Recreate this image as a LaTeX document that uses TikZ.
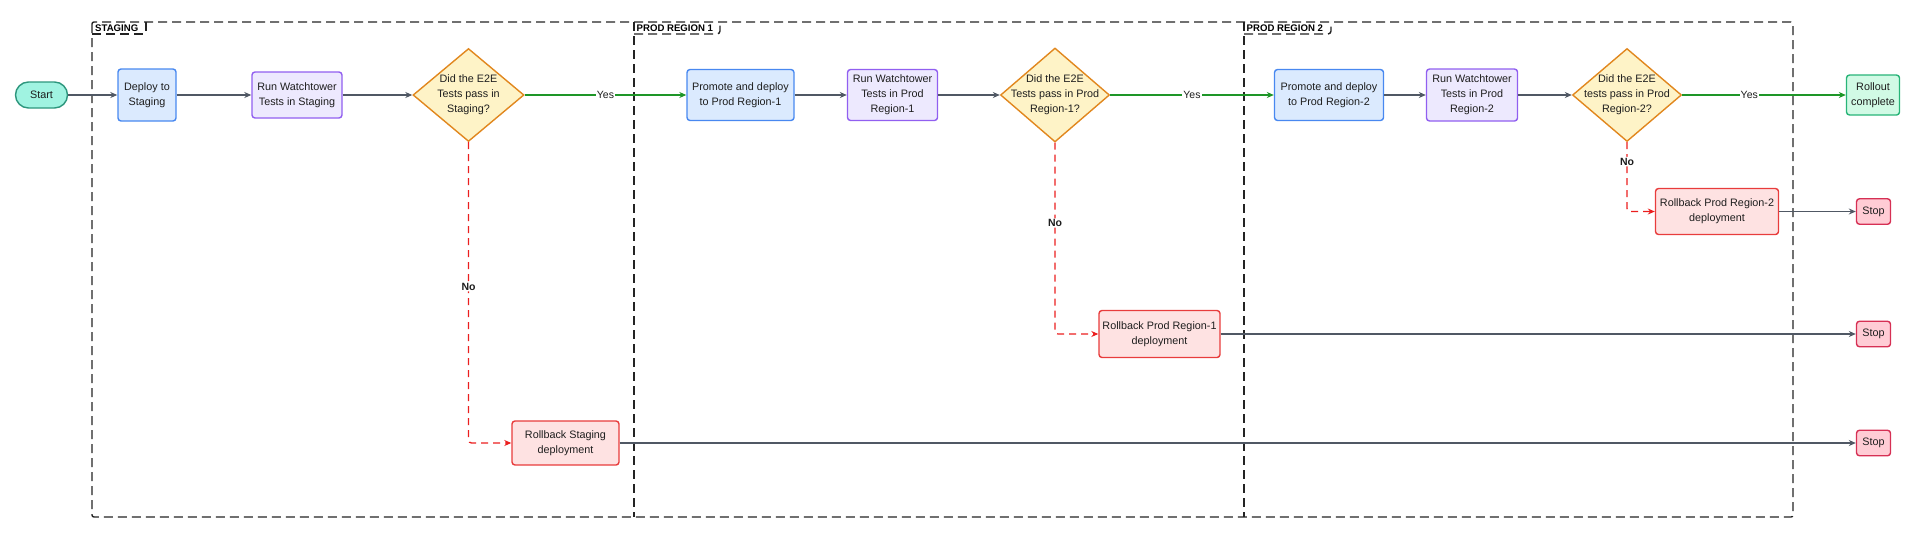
\documentclass[tikz,border=0pt]{standalone}
\usepackage{fontspec}
\setmainfont{Liberation Sans}
\usepackage{xcolor}
\usepackage{tikz}
\usetikzlibrary{shapes.geometric, arrows.meta, positioning}
\definecolor{inkgray}{RGB}{80,88,100}
\definecolor{laneink}{RGB}{35,35,35}
\definecolor{txtdark}{RGB}{30,30,30}
\definecolor{startdraw}{RGB}{45,150,125}
\definecolor{startfill}{RGB}{160,243,225}
\definecolor{bluedraw}{RGB}{72,136,240}
\definecolor{bluefill}{RGB}{219,234,254}
\definecolor{purpdraw}{RGB}{145,95,240}
\definecolor{purpfill}{RGB}{237,233,254}
\definecolor{amberdraw}{RGB}{225,135,30}
\definecolor{amberfill}{RGB}{254,243,199}
\definecolor{reddraw}{RGB}{232,60,60}
\definecolor{redfill}{RGB}{254,226,226}
\definecolor{stopdraw}{RGB}{214,48,84}
\definecolor{stopfill}{RGB}{255,204,213}
\definecolor{donedraw}{RGB}{40,180,120}
\definecolor{donefill}{RGB}{209,250,229}
\definecolor{yesgreen}{RGB}{30,150,40}
\definecolor{nored}{RGB}{235,30,30}
\tikzset{
  base/.style={rectangle, rounded corners=3pt, line width=1.4pt,
    align=center, inner sep=0pt, text=txtdark,
    font=\fontsize{10.8}{15}\selectfont},
  startpill/.style={base, draw=startdraw, fill=startfill, rounded corners=13pt},
  deploybox/.style={base, draw=bluedraw, fill=bluefill},
  testbox/.style={base, draw=purpdraw, fill=purpfill},
  rollbox/.style={base, draw=reddraw, fill=redfill},
  stopbox/.style={base, draw=stopdraw, fill=stopfill,
    minimum width=34pt, minimum height=25.5pt},
  donebox/.style={base, draw=donedraw, fill=donefill},
  decision/.style={diamond, draw=amberdraw, fill=amberfill,
    line width=1.4pt, inner sep=0pt},
  dtext/.style={align=center, text=txtdark, inner sep=0pt,
    font=\fontsize{10.8}{15}\selectfont},
  arrow/.style={-{Stealth[length=7pt, width=6pt]}, line width=1.2pt, color=inkgray},
  yesarrow/.style={-{Stealth[length=7pt, width=6pt]}, line width=1.6pt, color=yesgreen},
  noarrow/.style={-{Stealth[length=7pt, width=6pt]}, line width=1.3pt, color=nored,
    dash pattern=on 7pt off 5pt, rounded corners=3pt},
  edgelabel/.style={fill=white, inner sep=1pt, text=txtdark,
    font=\fontsize{10.5}{12}\selectfont},
  lane/.style={draw=laneink, line width=1.4pt, dash pattern=on 9pt off 5pt},
  lanetag/.style={anchor=west, inner sep=0pt, text=black,
    font=\bfseries\fontsize{9.6}{11}\selectfont}
}

\begin{document}
\begin{tikzpicture}[x=1pt, y=-1pt]
  \useasboundingbox (0,0) rectangle (1920,536);

  % Lanes
  \draw[lane, rounded corners=2pt] (92,22) rectangle (1793,517);
  \draw[lane] (634,22) -- (634,517);
  \draw[lane] (1244,22) -- (1244,517);
  \draw[lane, rounded corners=3pt] (92,34) -| (146,22);
  \draw[lane, rounded corners=3pt] (634,34) -| (720,22);
  \draw[lane, rounded corners=3pt] (1244,34) -| (1331,22);
  \node[lanetag] (tagstg) at (95,28.5) {STAGING};
  \node[lanetag] (tag1) at (636.5,28.5) {PROD REGION 1};
  \node[lanetag] (tag2) at (1246.5,28.5) {PROD REGION 2};

  % Main row
  \node[startpill, minimum width=52pt, minimum height=26pt] (start) at (41.5,95) {Start};
  \node[deploybox, minimum width=58pt, minimum height=52pt] (dstg) at (147,95) {Deploy to\\Staging};
  \node[testbox, minimum width=90pt, minimum height=46pt] (wtstg) at (297,95) {Run Watchtower\\Tests in Staging};
  \node[decision, minimum width=111pt, minimum height=93pt] (chkstg) at (468.5,95) {};
  \node[dtext] (chkstgtxt) at (chkstg) {Did the E2E\\Tests pass in\\Staging?};

  \node[deploybox, minimum width=107pt, minimum height=51pt] (pr1) at (740.5,95) {Promote and deploy\\to Prod Region-1};
  \node[testbox, minimum width=90pt, minimum height=51pt] (wt1) at (892.5,95) {Run Watchtower\\Tests in Prod\\Region-1};
  \node[decision, minimum width=109pt, minimum height=94pt] (chk1) at (1055,95) {};
  \node[dtext] (chk1txt) at (chk1) {Did the E2E\\Tests pass in Prod\\Region-1?};

  \node[deploybox, minimum width=109pt, minimum height=51pt] (pr2) at (1329,95) {Promote and deploy\\to Prod Region-2};
  \node[testbox, minimum width=91pt, minimum height=52pt] (wt2) at (1472,95) {Run Watchtower\\Tests in Prod\\Region-2};
  \node[decision, minimum width=109pt, minimum height=93pt] (chk2) at (1627,95) {};
  \node[dtext] (chk2txt) at (chk2) {Did the E2E\\tests pass in Prod\\Region-2?};
  \node[donebox, minimum width=53pt, minimum height=40pt] (done) at (1873,95) {Rollout\\complete};

  % Rollbacks and stops
  \node[rollbox, minimum width=107pt, minimum height=44pt] (rbstg) at (565.5,443) {Rollback Staging\\deployment};
  \node[rollbox, minimum width=121pt, minimum height=47pt] (rb1) at (1159.5,334) {Rollback Prod Region-1\\deployment};
  \node[rollbox, minimum width=123pt, minimum height=46pt] (rb2) at (1717,211.5) {Rollback Prod Region-2\\deployment};
  \node[stopbox] (stop1) at (1873.5,211.5) {Stop};
  \node[stopbox] (stop2) at (1873.5,334) {Stop};
  \node[stopbox] (stop3) at (1873.5,443) {Stop};

  % Flow
  \draw[arrow] (start.east) -- (dstg.west);
  \draw[arrow] (dstg.east) -- (wtstg.west);
  \draw[arrow] (wtstg.east) -- (chkstg.west);
  \draw[yesarrow] (chkstg.east) -- node[edgelabel] {Yes} (pr1.west);
  \draw[arrow] (pr1.east) -- (wt1.west);
  \draw[arrow] (wt1.east) -- (chk1.west);
  \draw[yesarrow] (chk1.east) -- node[edgelabel] {Yes} (pr2.west);
  \draw[arrow] (pr2.east) -- (wt2.west);
  \draw[arrow] (wt2.east) -- (chk2.west);
  \draw[yesarrow] (chk2.east) -- node[edgelabel, pos=0.41] {Yes} (done.west);

  % No branches
  \draw[noarrow] (chkstg.south) |- node[edgelabel, pos=0.24] {\bfseries No} (rbstg.west);
  \draw[noarrow] (chk1.south) |- node[edgelabel, pos=0.21] {\bfseries No} (rb1.west);
  \draw[noarrow] (chk2.south) |- node[edgelabel, pos=0.14] {\bfseries No} (rb2.west);
  \draw[arrow] (rbstg.east) -- (stop3.west);
  \draw[arrow] (rb1.east) -- (stop2.west);
  \draw[arrow] (rb2.east) -- (stop1.west);
\end{tikzpicture}
\end{document}
